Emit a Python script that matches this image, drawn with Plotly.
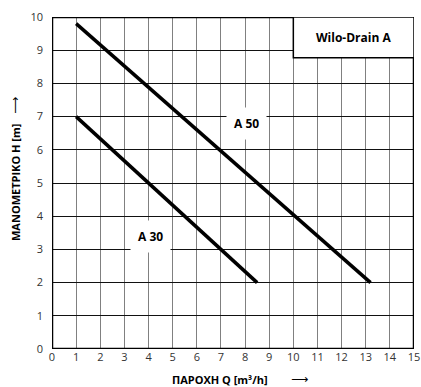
import plotly.graph_objects as go

# Data
a50_q = [1.0, 13.2]
a50_h = [9.8, 2.0]
a30_q = [1.0, 8.5]
a30_h = [7.0, 2.0]
x_ticks = list(range(0, 16))
y_ticks = list(range(0, 11))

FONT = "Open Sans"
W, H = 421, 387
L, R, T, B = 52, 7, 17, 38

fig = go.Figure()
fig.add_trace(go.Scatter(x=a50_q, y=a50_h, mode="lines",
                         line=dict(color="black", width=3.5), showlegend=False))
fig.add_trace(go.Scatter(x=a30_q, y=a30_h, mode="lines",
                         line=dict(color="black", width=3.5), showlegend=False))

fig.update_layout(
    width=W, height=H,
    margin=dict(l=L, r=R, t=T, b=B, autoexpand=False),
    paper_bgcolor="white", plot_bgcolor="white",
    template="none",
    font=dict(family=FONT, size=11, color="#222"),
    xaxis=dict(range=[0, 15], tickvals=x_ticks, showgrid=True,
               gridcolor="#808080", gridwidth=1.2, zeroline=False,
               showline=False, ticks="", tickfont=dict(size=11, color="#333")),
    yaxis=dict(range=[0, 10], tickvals=y_ticks, showgrid=True,
               gridcolor="#111111", gridwidth=1.2, zeroline=False,
               showline=False, ticks="", ticklabelstandoff=8,
               tickfont=dict(size=11, color="#333")),
)

# plot frame
fig.add_shape(type="rect", xref="x", yref="y", x0=0, x1=15, y0=0, y1=10,
              line=dict(color="black", width=2.5), layer="above")
# title box
fig.add_shape(type="rect", xref="x", yref="y", x0=10, x1=15, y0=8.77, y1=10,
              line=dict(color="black", width=1.5), fillcolor="white", layer="above")
fig.add_annotation(x=12.5, y=9.39, xref="x", yref="y", text="<b>Wilo-Drain A</b>",
                   showarrow=False, font=dict(family=FONT, size=12, color="black"))

# curve labels
fig.add_annotation(x=8.06, y=6.78, xref="x", yref="y", text="<b>A 50</b>",
                   showarrow=False, bgcolor="white", borderpad=7,
                   font=dict(family=FONT, size=12, color="black"))
fig.add_annotation(x=4.07, y=3.39, xref="x", yref="y", text="<b>A 30</b>",
                   showarrow=False, bgcolor="white", borderpad=7,
                   font=dict(family=FONT, size=12, color="black"))

def px2paper(px, py):
    return (px - L) / (W - L - R), (H - B - py) / (H - T - B)

# axis titles (positions given in pixels, converted to paper coords)
for px, py, txt, ang, sz, fam in [
    (220, 379, "<b>ΠΑΡΟΧΗ Q [m³/h]</b>", 0, 11, FONT),
    (299, 379, "⟶", 0, 12, "DejaVu Sans"),
    (15, 183, "<b>ΜΑΝΟΜΕΤΡΙΚΟ H [m]</b>", -90, 11, FONT),
    (15, 106, "⟶", -90, 12, "DejaVu Sans"),
]:
    xp, yp = px2paper(px, py)
    fig.add_annotation(x=xp, y=yp, xref="paper", yref="paper", text=txt,
                       textangle=ang, showarrow=False,
                       xanchor="center", yanchor="middle",
                       font=dict(family=fam, size=sz, color="black"))

fig.write_html("out.html", config={"displayModeBar": False},
               post_script="document.body.style.margin='0';document.body.style.padding='0';")
